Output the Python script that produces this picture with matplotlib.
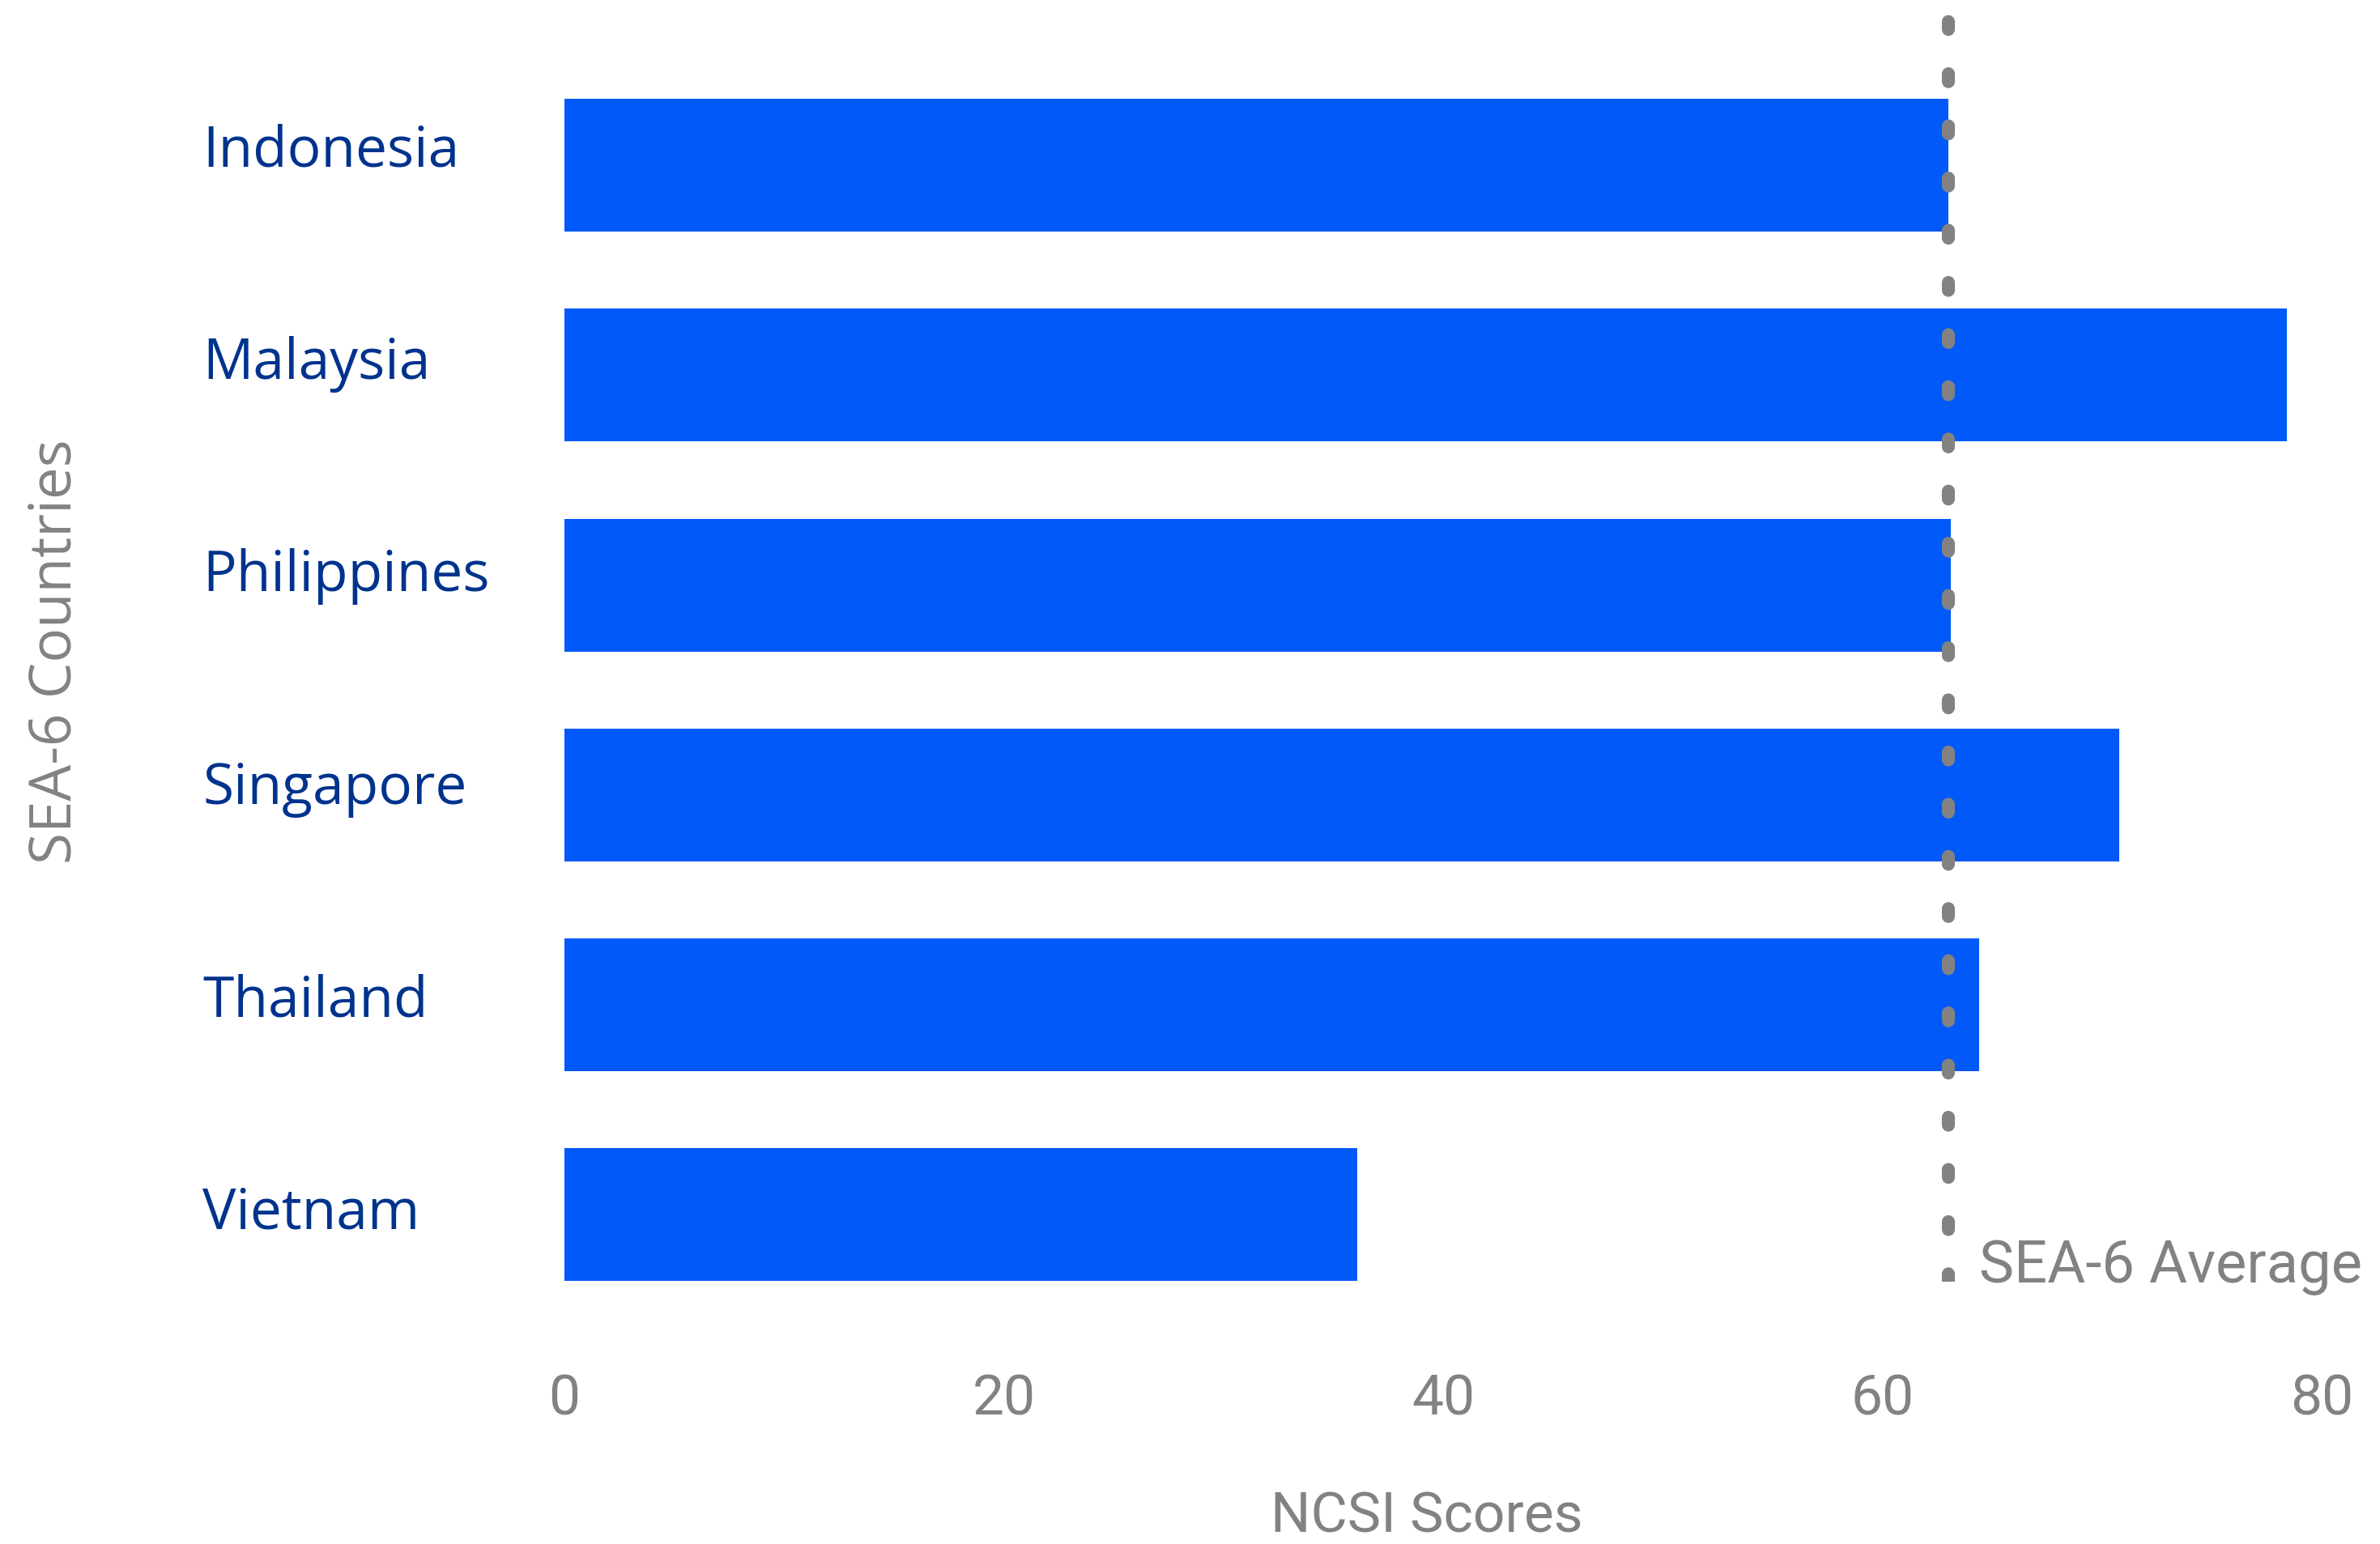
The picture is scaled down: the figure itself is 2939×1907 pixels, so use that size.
import matplotlib
matplotlib.use("Agg")
import matplotlib.pyplot as plt
import matplotlib.transforms as mtransforms

countries = ["Indonesia", "Malaysia", "Philippines", "Singapore", "Thailand", "Vietnam"]
scores = [63.0, 78.4, 63.1, 70.8, 64.4, 36.1]
sea6_average = 63.0
x_ticks = [0, 20, 40, 60, 80]

BAR_COLOR = "#0059F8"
LABEL_COLOR = "#00338D"
GRAY = "#828282"
GRAY_FONT = "Roboto"
LABEL_FONT = "Open Sans"

W, H, DPI = 2939, 1908, 200
fig = plt.figure(figsize=(W / DPI, H / DPI), dpi=DPI)
ax = fig.add_axes([697 / W, 324 / H, 2170 / W, 1568 / H])

ypos = list(range(len(countries)))
ax.barh(ypos, scores, height=0.633, color=BAR_COLOR, zorder=2)

# average line: rounded dots
ax.axvline(sea6_average, color=GRAY, linewidth=5.8, linestyle=(0, (0.6, 3.4)),
           dash_capstyle="round", zorder=3)
ax.text(sea6_average + 1.4, 5.25, "SEA-6 Average", fontsize=26, color=GRAY,
        family=GRAY_FONT, va="center", ha="left")

ax.set_xlim(0, 80)
ax.set_ylim(5.32, -0.73)
ax.set_xticks(x_ticks)
ax.set_xticklabels([str(t) for t in x_ticks], family=GRAY_FONT, fontsize=25, color=GRAY)
ax.tick_params(axis="x", length=0, pad=40)
ax.set_yticks([])
for s in ax.spines.values():
    s.set_visible(False)

# country names, left-aligned in the left margin, baseline near the bar centre
# (the label rows are spaced slightly wider than the bars in the original)
trans = mtransforms.blended_transform_factory(fig.transFigure, ax.transData)
for y, name in zip(ypos, countries):
    ax.text(250 / W, y * 1.013, name, transform=trans, fontsize=25, color=LABEL_COLOR,
            family=LABEL_FONT, va="baseline", ha="left")

fig.text(69 / W, 1 - 805 / H, "SEA-6 Countries", rotation=90, fontsize=25.5,
         color=GRAY, family=LABEL_FONT, va="center", ha="center")
fig.text(1762 / W, 1 - 1874 / H, "NCSI Scores", fontsize=25, color=GRAY,
         family=GRAY_FONT, va="center", ha="center")

fig.savefig("out.png", dpi=DPI)
